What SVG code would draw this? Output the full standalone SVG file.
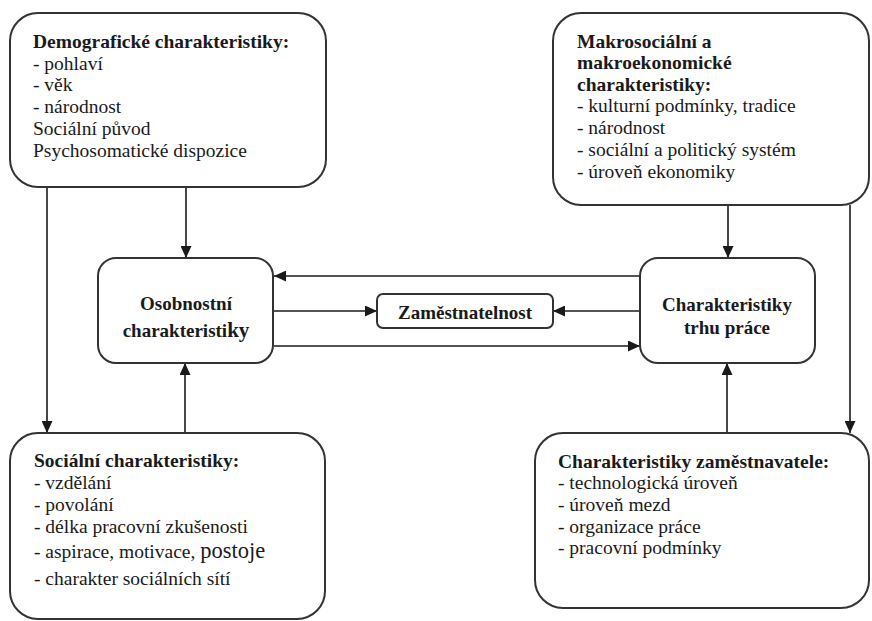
<svg xmlns="http://www.w3.org/2000/svg" width="872" height="621" viewBox="0 0 872 621">
<defs>
<marker id="ah" markerUnits="userSpaceOnUse" markerWidth="12" markerHeight="11" refX="12" refY="5.5" orient="auto">
<path d="M0,0 L12,5.5 L0,11 z" fill="#1a1a1a"/>
</marker>
<style>
.box{fill:#fff;stroke:#333;stroke-width:2}
.t{font-family:"Liberation Serif","Times New Roman",serif;font-size:19.5px;fill:#1a1a1a}
.b{font-weight:bold}
.c{text-anchor:middle}
.m{font-size:19px}
.ln{stroke:#1a1a1a;stroke-width:1.6;fill:none}
</style>
</defs>
<rect width="872" height="621" fill="#fff"/>
<g id="connectors">
<line class="ln" x1="186" y1="188" x2="186" y2="258" marker-end="url(#ah)"/>
<line class="ln" x1="47" y1="188" x2="47" y2="433" marker-end="url(#ah)"/>
<line class="ln" x1="728" y1="205" x2="728" y2="258" marker-end="url(#ah)"/>
<line class="ln" x1="850" y1="205" x2="850" y2="433" marker-end="url(#ah)"/>
<line class="ln" x1="185" y1="433" x2="185" y2="363" marker-end="url(#ah)"/>
<line class="ln" x1="727" y1="433" x2="727" y2="363" marker-end="url(#ah)"/>
<line class="ln" x1="640" y1="276" x2="274" y2="276" marker-end="url(#ah)"/>
<line class="ln" x1="274" y1="311" x2="377" y2="311" marker-end="url(#ah)"/>
<line class="ln" x1="640" y1="311" x2="553" y2="311" marker-end="url(#ah)"/>
<line class="ln" x1="274" y1="346" x2="640" y2="346" marker-end="url(#ah)"/>
</g>
<g id="demograficke">
<rect class="box" x="10" y="13" width="316" height="174" rx="28"/>
<text class="t b" x="33" y="48">Demografické charakteristiky:</text>
<text class="t" x="33" y="70">- pohlaví</text>
<text class="t" x="33" y="91">- věk</text>
<text class="t" x="33" y="113">- národnost</text>
<text class="t" x="33" y="135">Sociální původ</text>
<text class="t" x="33" y="157">Psychosomatické dispozice</text>
</g>
<g id="makro">
<rect class="box" x="553" y="13" width="316" height="192" rx="28"/>
<text class="t b" x="577" y="48">Makrosociální a</text>
<text class="t b" x="577" y="69">makroekonomické</text>
<text class="t b" x="577" y="91">charakteristiky:</text>
<text class="t" x="577" y="112">- kulturní podmínky, tradice</text>
<text class="t" x="577" y="134">- národnost</text>
<text class="t" x="577" y="156">- sociální a politický systém</text>
<text class="t" x="577" y="178">- úroveň ekonomiky</text>
</g>
<g id="osobnostni">
<rect class="box" x="98" y="258" width="175" height="105" rx="18"/>
<text class="t b c m" x="186" y="310">Osobnostní</text>
<text class="t b c m" x="186" y="337">charakteristi<tspan font-size="21">ky</tspan></text>
</g>
<g id="zamestnatelnost">
<rect class="box" x="377" y="294" width="176" height="34" rx="6"/>
<text class="t b c m" x="465" y="319">Zaměstnatelnost</text>
</g>
<g id="trh">
<rect class="box" x="640" y="258" width="175" height="105" rx="18"/>
<text class="t b c m" x="727" y="311">Charakteristiky</text>
<text class="t b c m" x="727" y="334">trhu práce</text>
</g>
<g id="socialni">
<rect class="box" x="10" y="433" width="315" height="186" rx="28"/>
<text class="t b" x="34" y="467">Sociální charakteristiky:</text>
<text class="t" x="34" y="489">- vzdělání</text>
<text class="t" x="34" y="511">- povolání</text>
<text class="t" x="34" y="533">- délka pracovní zkušenosti</text>
<text class="t" x="34" y="558">- aspirace, motivace, <tspan font-size="22.5">postoje</tspan></text>
<text class="t" x="34" y="585">- charakter sociálních sítí</text>
</g>
<g id="zamestnavatel">
<rect class="box" x="535" y="433" width="334" height="175" rx="28"/>
<text class="t b" x="558" y="468">Charakteristiky zaměstnavatele:</text>
<text class="t" x="558" y="489">- technologická úroveň</text>
<text class="t" x="558" y="511">- úroveň mezd</text>
<text class="t" x="558" y="533">- organizace práce</text>
<text class="t" x="558" y="554">- pracovní podmínky</text>
</g>
</svg>
